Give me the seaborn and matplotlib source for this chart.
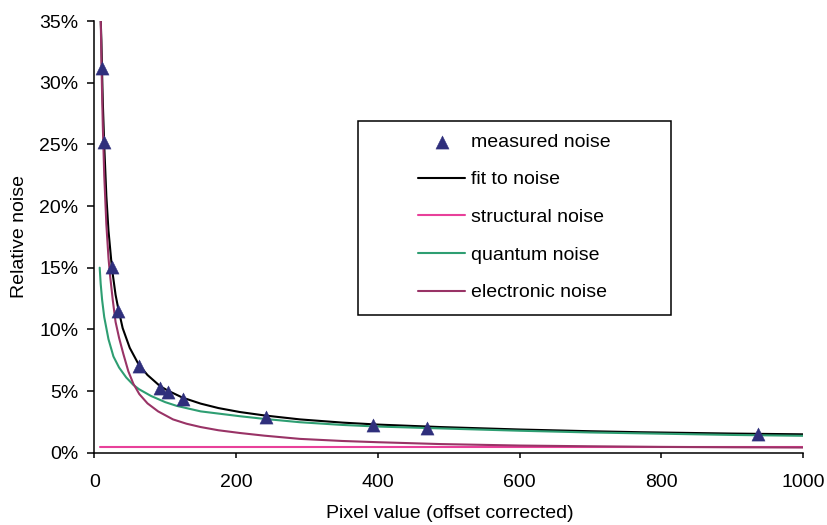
import matplotlib
matplotlib.use("Agg")
import matplotlib.pyplot as plt
from matplotlib.patches import Rectangle
from matplotlib.ticker import FuncFormatter
import seaborn as sns
import pandas as pd

# Measured relative noise (percent) versus offset-corrected pixel value
measured_x = [10.9, 14.1, 25.0, 33.4, 62.6, 92.7, 103.5, 124.7, 241.7, 393.5, 468.8, 936.5]
measured_y = [31.15, 25.2, 15.07, 11.5, 7.05, 5.27, 4.95, 4.35, 2.86, 2.25, 2.02, 1.48]

# Fitted total noise
fit_x = [8.8, 10.0, 10.9, 12.0, 14.1, 17.0, 20.0, 25.0, 30.0, 33.4, 40.0, 50.0, 62.6, 75.0,
         92.7, 103.5, 124.7, 150.0, 175.0, 205.0, 240.0, 290.0, 350.0, 400.0, 488.0, 600.0,
         700.0, 770.0, 900.0, 1000.0]
fit_y = [35.5, 33.4, 31.0, 28.4, 24.8, 20.8, 18.0, 14.9, 12.8, 11.8, 10.1, 8.5, 7.15, 6.3,
         5.4, 5.04, 4.46, 3.98, 3.62, 3.3, 3.02, 2.7, 2.44, 2.28, 2.08, 1.88, 1.74, 1.66,
         1.55, 1.49]

# Noise components
structural_x = [8.0, 1000.0]
structural_y = [0.49, 0.49]

quantum_x = [7.6, 9.0, 11.0, 14.0, 17.0, 20.0, 27.0, 35.0, 45.0, 55.0, 63.0, 80.0, 100.0,
             116.0, 150.0, 205.0, 240.0, 290.0, 350.0, 400.0, 488.0, 600.0, 700.0, 770.0,
             900.0, 1000.0]
quantum_y = [15.0, 13.7, 12.4, 11.0, 10.1, 9.2, 7.8, 6.9, 6.1, 5.5, 5.15, 4.6, 4.1,
             3.8, 3.35, 2.96, 2.74, 2.47, 2.25, 2.12, 1.97, 1.78, 1.64, 1.57,
             1.44, 1.37]

electronic_x = [8.0, 9.0, 10.0, 11.0, 12.0, 14.0, 17.0, 20.0, 22.0, 26.0, 30.0, 35.0, 41.0,
                48.0, 55.0, 63.5, 75.0, 90.0, 111.0, 130.0, 150.0, 175.0, 205.0, 240.0,
                290.0, 350.0, 400.0, 488.0, 600.0, 700.0, 800.0, 900.0, 1000.0]
electronic_y = [40.0, 35.4, 32.0, 29.0, 26.5, 22.5, 18.5, 15.8, 14.5, 12.4, 10.6, 9.3, 8.0,
                6.6, 5.6, 4.75, 4.0, 3.35, 2.7, 2.35, 2.08, 1.82, 1.6, 1.38,
                1.12, 0.95, 0.85, 0.7, 0.58, 0.52, 0.47, 0.44, 0.42]

labels = ["measured noise", "fit to noise", "structural noise", "quantum noise", "electronic noise"]
colors = {"measured noise": "#2F2F7C", "fit to noise": "#000000",
          "structural noise": "#E8409A", "quantum noise": "#2E9E72",
          "electronic noise": "#993366"}

sns.set_style("ticks")
plt.rcParams["font.family"] = ["Liberation Sans", "DejaVu Sans"]
plt.rcParams["font.size"] = 14
plt.rcParams["text.color"] = "black"
plt.rcParams["axes.labelcolor"] = "black"
plt.rcParams["xtick.color"] = "black"
plt.rcParams["ytick.color"] = "black"

fig = plt.figure(figsize=(8.28, 5.25), dpi=100)
W, H = 828, 525
ax_l, ax_r, ax_t, ax_b = 94.3, 803.3, 21.0, 452.7
ax = fig.add_axes([ax_l / W, 1 - ax_b / H, (ax_r - ax_l) / W, (ax_b - ax_t) / H])

curves = [
    ("fit to noise", fit_x, fit_y),
    ("structural noise", structural_x, structural_y),
    ("quantum noise", quantum_x, quantum_y),
    ("electronic noise", electronic_x, electronic_y),
]
handles = {}
for name, xs, ys in curves:
    df = pd.DataFrame({"x": xs, "y": ys})
    sns.lineplot(data=df, x="x", y="y", ax=ax, color=colors[name], linewidth=1.5,
                 estimator=None, sort=False, label=name, legend=False)
    handles[name] = ax.get_lines()[-1]

mdf = pd.DataFrame({"x": measured_x, "y": measured_y})
sns.scatterplot(data=mdf, x="x", y="y", ax=ax, marker="^", s=90,
                color=colors["measured noise"], edgecolor=colors["measured noise"],
                linewidth=0.3, zorder=5, label="measured noise", legend=False)
handles["measured noise"] = ax.collections[-1]

ax.set_xlim(0, 1000)
ax.set_ylim(0, 35)
ax.set_xticks([0, 200, 400, 600, 800, 1000])
ax.set_yticks([0, 5, 10, 15, 20, 25, 30, 35])
ax.yaxis.set_major_formatter(FuncFormatter(lambda v, p: f"{v:.0f}%"))
ax.tick_params(axis="x", direction="out", length=3.5, width=1.1, pad=12, labelsize=14, color="black")
ax.tick_params(axis="y", direction="out", length=4.8, width=1.1, pad=6.5, labelsize=14, color="black")
for side in ("top", "right"):
    ax.spines[side].set_visible(False)
for side in ("left", "bottom"):
    ax.spines[side].set_color("black")
    ax.spines[side].set_linewidth(1.1)

ax.set_xlabel("Pixel value (offset corrected)", fontsize=14)
ax.set_ylabel("Relative noise", fontsize=14)
ax.xaxis.set_label_coords(0.5017, (ax_b - 513) / (ax_b - ax_t))
ax.xaxis.label.set_va("center")
ax.yaxis.set_label_coords((19.5 - ax_l) / (ax_r - ax_l), 0.5)
ax.yaxis.label.set_va("center")

# Legend frame drawn as a rectangle, legend entries placed inside it
box_l, box_r, box_t, box_b = 358.3, 671.0, 120.7, 315.0
frame = Rectangle((box_l / W, 1 - box_b / H), (box_r - box_l) / W, (box_b - box_t) / H,
                  transform=fig.transFigure, facecolor="white", edgecolor="black",
                  linewidth=1.1, zorder=10)
fig.patches.append(frame)
leg = fig.legend([handles[n] for n in labels], labels, loc="upper left",
                 bbox_to_anchor=(418.3 / W, 1 - 133.2 / H), bbox_transform=fig.transFigure,
                 frameon=False, borderpad=0, borderaxespad=0, handlelength=2.4,
                 handletextpad=0.3, labelspacing=1.03, fontsize=14, scatterpoints=1)
leg.set_zorder(11)

fig.savefig("out.png", dpi=100)
